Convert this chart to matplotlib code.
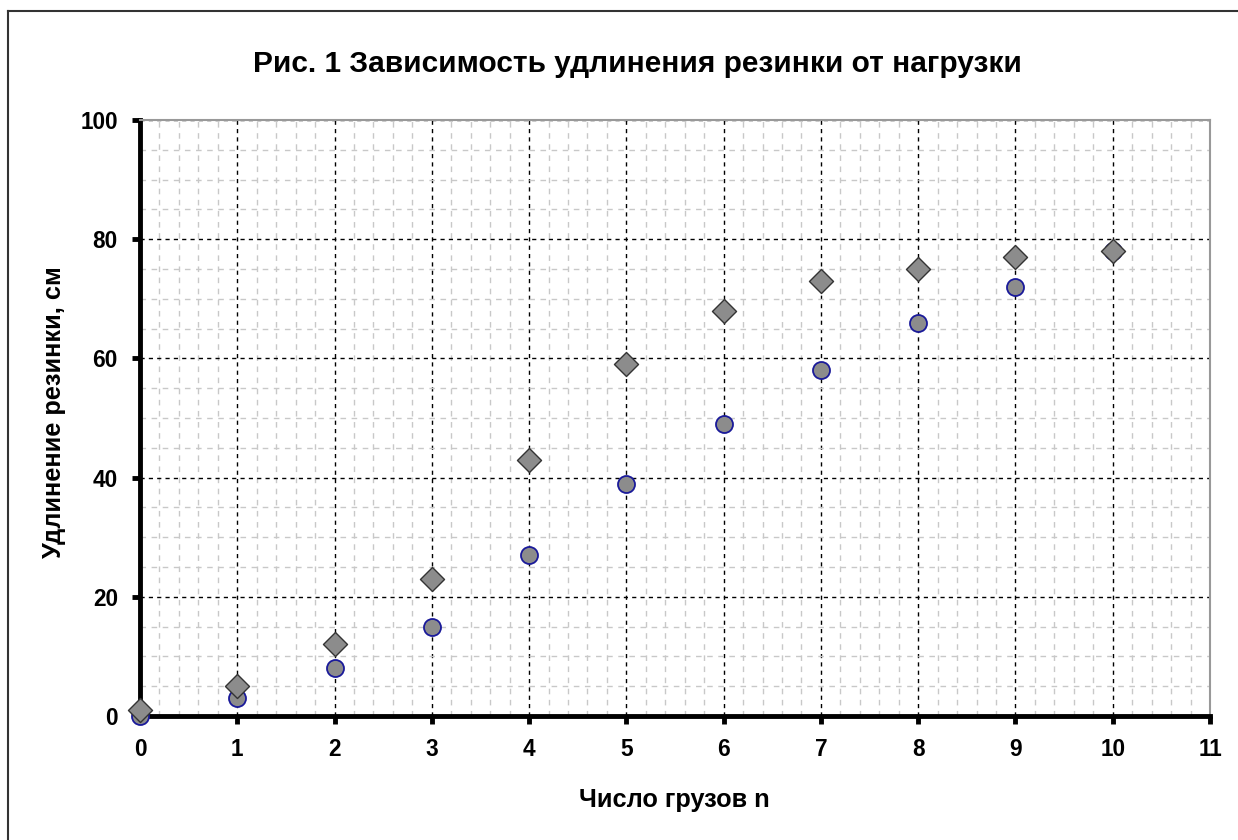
import matplotlib.pyplot as plt
from matplotlib.ticker import MultipleLocator
from matplotlib.lines import Line2D

plt.rcParams['font.family'] = ['Liberation Sans', 'DejaVu Sans']
plt.rcParams['font.weight'] = 'bold'

# data
n = [0, 1, 2, 3, 4, 5, 6, 7, 8, 9, 10]
series_diamond = [1, 5, 12, 23, 43, 59, 68, 73, 75, 77, 78]
series_circle = [0, 3, 8, 15, 27, 39, 49, 58, 66, 72, 78]

fig = plt.figure(figsize=(12.38, 8.4), dpi=100)
ax = fig.add_axes([140/1238, 1 - 716/840, (1210-140)/1238, (716-120)/840])

ax.scatter(n, series_circle, s=150, marker='o', facecolor='#8c8c8c',
           edgecolor='#1a1a9a', linewidth=1.3, zorder=3, clip_on=False)
ax.scatter(n, series_diamond, s=150, marker='D', facecolor='#8c8c8c',
           edgecolor='#333333', linewidth=1.0, zorder=4, clip_on=False)

ax.set_xlim(0, 11)
ax.set_ylim(0, 100)
ax.xaxis.set_major_locator(MultipleLocator(1))
ax.xaxis.set_minor_locator(MultipleLocator(0.2))
ax.yaxis.set_major_locator(MultipleLocator(20))
ax.yaxis.set_minor_locator(MultipleLocator(5))

ax.grid(which='minor', color='#c8c8c8', linestyle=(0, (4, 4)), linewidth=1.0)
ax.grid(which='major', color='black', linestyle=(0, (3, 3)), linewidth=1.0)
ax.set_axisbelow(True)

for side in ['left', 'bottom']:
    ax.spines[side].set_linewidth(3.5)
    ax.spines[side].set_color('black')
for side in ['top', 'right']:
    ax.spines[side].set_linewidth(1.5)
    ax.spines[side].set_color('#999999')

ax.tick_params(which='major', direction='out', length=6, width=3.5,
               labelsize=16.3, pad=10)
ax.tick_params(which='minor', length=0)
for lbl in ax.get_xticklabels() + ax.get_yticklabels():
    lbl.set_fontweight('bold')

fig.text(637/1238, 1 - 64/840, 'Рис. 1 Зависимость удлинения резинки от нагрузки',
         ha='center', va='center', fontsize=21.5, fontweight='bold')
fig.text(674/1238, 1 - 800/840, 'Число грузов n', ha='center', va='center',
         fontsize=18.3, fontweight='bold')
fig.text(54/1238, 1 - 412/840, 'Удлинение резинки, см', ha='center',
         va='center', rotation=90, fontsize=18.3, fontweight='bold')

# outer border of the chart area
fig.add_artist(Line2D([8/1238, 8/1238], [0, 1 - 11/840], color='#333333',
                      linewidth=1.5, transform=fig.transFigure))
fig.add_artist(Line2D([8/1238, 1], [1 - 11/840, 1 - 11/840], color='#333333',
                      linewidth=1.5, transform=fig.transFigure))

fig.savefig('out.png', dpi=100)
